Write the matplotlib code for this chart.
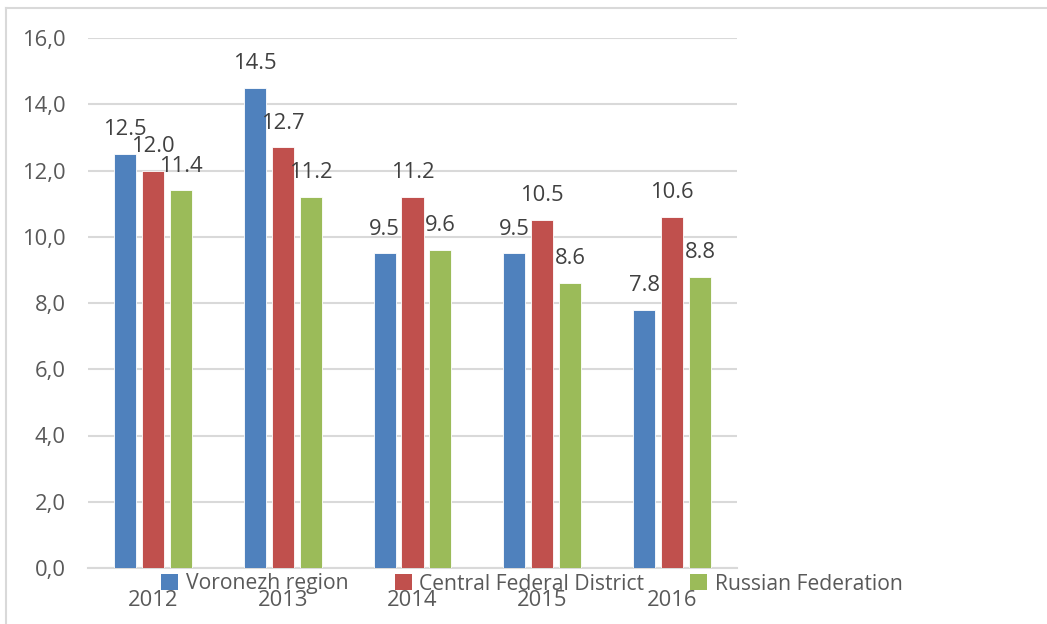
import matplotlib
matplotlib.use("Agg")
import matplotlib.pyplot as plt
from matplotlib.lines import Line2D
from matplotlib.patches import Patch
import numpy as np

years = ["2012", "2013", "2014", "2015", "2016"]
series_names = ["Voronezh region", "Central Federal District", "Russian Federation"]
voronezh = [12.5, 14.5, 9.5, 9.5, 7.8]
central = [12.0, 12.7, 11.2, 10.5, 10.6]
russia = [11.4, 11.2, 9.6, 8.6, 8.8]
yticks = [0, 2, 4, 6, 8, 10, 12, 14, 16]

colors = ["#4F81BD", "#C0504D", "#9BBB59"]
plt.rcParams['font.family'] = ['Open Sans', 'DejaVu Sans']

fig = plt.figure(figsize=(10.47, 6.24), dpi=100)
ax = fig.add_axes([88/1047, 1-568/624, (737-88)/1047, (568-38)/624])

x = np.arange(len(years))
width = 0.17
step = 0.215
for i, (vals, col) in enumerate(zip([voronezh, central, russia], colors)):
    xs = x + (i - 1) * step
    bars = ax.bar(xs, vals, width, color=col, edgecolor="white", linewidth=0.6, zorder=3)
    for b, v in zip(bars, vals):
        ax.annotate(f"{v:.1f}", (b.get_x() + b.get_width()/2, v),
                    xytext=(0, 17.5), textcoords="offset points",
                    ha="center", va="center", fontsize=15.8, color="#404040")

ax.set_xlim(-0.5, len(years) - 0.5)
ax.set_ylim(0, 16)
ax.set_yticks(yticks)
ax.set_yticklabels([f"{t:.1f}".replace(".", ",") for t in yticks])
ax.set_xticks(x)
ax.set_xticklabels(years)
ax.tick_params(axis="both", length=0, labelsize=15.8, labelcolor="#595959")
ax.tick_params(axis="y", pad=16)
ax.tick_params(axis="x", pad=16)
ax.grid(axis="y", color="#D9D9D9", linewidth=1.5, zorder=0)
for s in ["top", "right", "left"]:
    ax.spines[s].set_visible(False)
ax.spines["bottom"].set_color("#D9D9D9")
ax.spines["bottom"].set_linewidth(1.5)

handles = [Patch(facecolor=c, edgecolor="none") for c in colors]
fig.legend(handles, series_names, loc="center", bbox_to_anchor=(532/1047, 1-584/624),
           ncol=3, frameon=False, fontsize=15.2, labelcolor="#595959",
           handlelength=0.8, handleheight=0.8, handletextpad=0.35, columnspacing=2.2)

fig.add_artist(Line2D([6/1047, 6/1047], [0, 1-8/624], color="#D9D9D9", linewidth=1.5, transform=fig.transFigure))
fig.add_artist(Line2D([6/1047, 1], [1-8/624, 1-8/624], color="#D9D9D9", linewidth=1.5, transform=fig.transFigure))

fig.savefig("out.png", dpi=100)
